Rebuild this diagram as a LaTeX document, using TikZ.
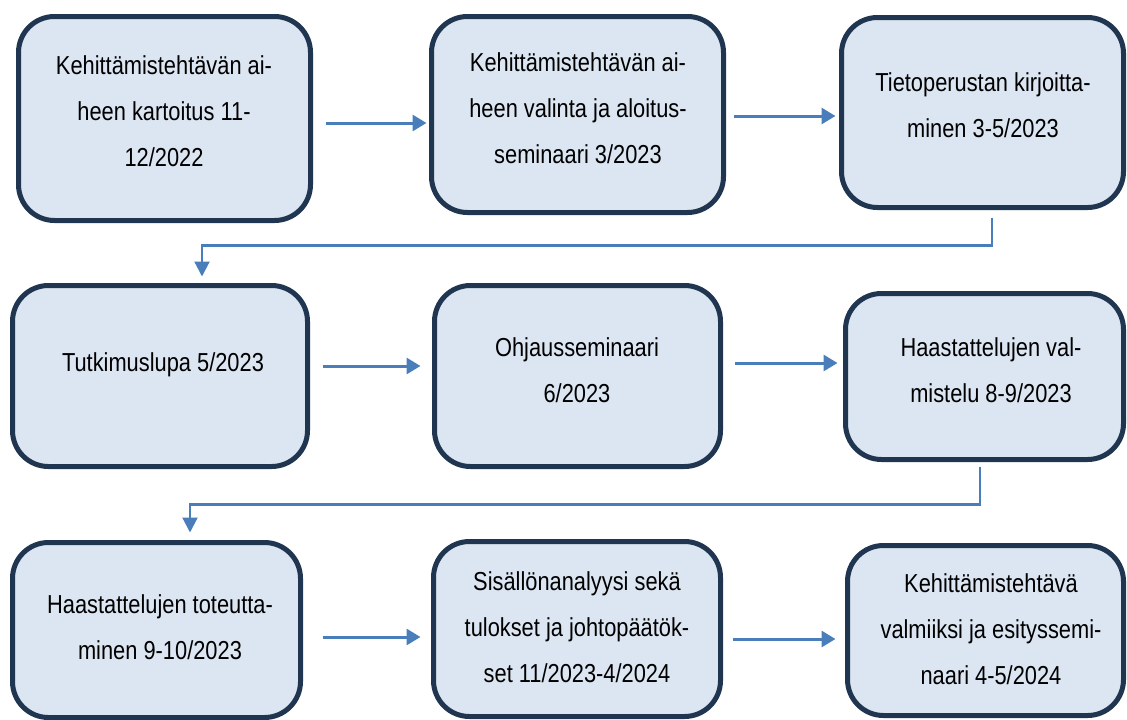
\documentclass[tikz,border=0pt]{standalone}
\usepackage{fontspec}
\setmainfont[FakeStretch=0.84]{Liberation Sans}
\usetikzlibrary{calc,arrows.meta}
\definecolor{boxfill}{HTML}{DCE6F2}
\definecolor{boxline}{HTML}{1F3550}
\definecolor{arrowc}{HTML}{4A7EBB}
\begin{document}
\begin{tikzpicture}[x=1pt,y=-1pt,
  box/.style={draw=boxline, fill=boxfill, line width=5pt, rounded corners=36pt, inner sep=0pt},
  txt/.style={align=center, font=\fontsize{26pt}{46pt}\selectfont, inner sep=0pt},
  arr/.style={draw=arrowc, line width=3pt, -{Triangle[length=14pt,width=16pt]}},
  conn/.style={draw=arrowc, line width=2.2pt, -{Triangle[length=15pt,width=15pt]}}]
\useasboundingbox (0,0) rectangle (1127,720);
% boxes
\node[box, minimum width=292pt, minimum height=204pt] (b1) at (164.5,118.5) {};
\node[box, minimum width=292pt, minimum height=196pt] (b2) at (577.5,114.5) {};
\node[box, minimum width=282pt, minimum height=190pt] (b3) at (982.5,112.5) {};
\node[box, minimum width=295pt, minimum height=181pt] (b4) at (160,376) {};
\node[box, minimum width=286pt, minimum height=181pt] (b5) at (577.5,376) {};
\node[box, minimum width=278pt, minimum height=166pt] (b6) at (984.5,376.5) {};
\node[box, minimum width=288pt, minimum height=175pt] (b7) at (156.5,630) {};
\node[box, minimum width=287pt, minimum height=175pt] (b8) at (577,629) {};
\node[box, minimum width=276pt, minimum height=170pt] (b9) at (985.5,630.5) {};
% texts
\node[txt] (t1) at (164,111) {Kehittämistehtävän ai-\\heen kartoitus 11-\\12/2022};
\node[txt] (t2) at (578,108) {Kehittämistehtävän ai-\\heen valinta ja aloitus-\\seminaari 3/2023};
\node[txt] (t3) at (983,105.5) {Tietoperustan kirjoitta-\\minen 3-5/2023};
\node[txt] (t4) at (163,365) {Tutkimuslupa 5/2023};
\node[txt] (t5) at (577,370.5) {Ohjausseminaari\\6/2023};
\node[txt] (t6) at (991,370) {Haastattelujen val-\\mistelu 8-9/2023};
\node[txt] (t7) at (160,627) {Haastattelujen toteutta-\\minen 9-10/2023};
\node[txt] (t8) at (577,627) {Sisällönanalyysi sekä\\tulokset ja johtopäätök-\\set 11/2023-4/2024};
\node[txt] (t9) at (991,629) {Kehittämistehtävä\\valmiiksi ja esityssemi-\\naari 4-5/2024};
% horizontal arrows
\draw[arr] ($(b1.east)+(12.5,4.5)$) -- ++(101,0);
\draw[arr] ($(b2.east)+(7.5,1.5)$) -- ++(102,0);
\draw[arr] ($(b4.east)+(12.5,-10)$) -- ++(98,0);
\draw[arr] ($(b5.east)+(11.5,-13)$) -- ++(103,0);
\draw[arr] ($(b7.east)+(19.5,7)$) -- ++(98,0);
\draw[arr] ($(b8.east)+(9.5,10)$) -- ++(103,0);
% row connectors
\coordinate (c1s) at ($(b3.south)+(9.5,7.5)$);
\coordinate (c1e) at ($(b4.north)+(42,-6.5)$);
\draw[conn] (c1s) -- ($(c1s)+(0,28)$) -| (c1e);
\coordinate (c2s) at ($(b6.south)+(-4.5,4.5)$);
\coordinate (c2e) at ($(b7.north)+(33.5,-7.5)$);
\draw[conn] (c2s) -- ($(c2s)+(0,38)$) -| (c2e);
\end{tikzpicture}
\end{document}
